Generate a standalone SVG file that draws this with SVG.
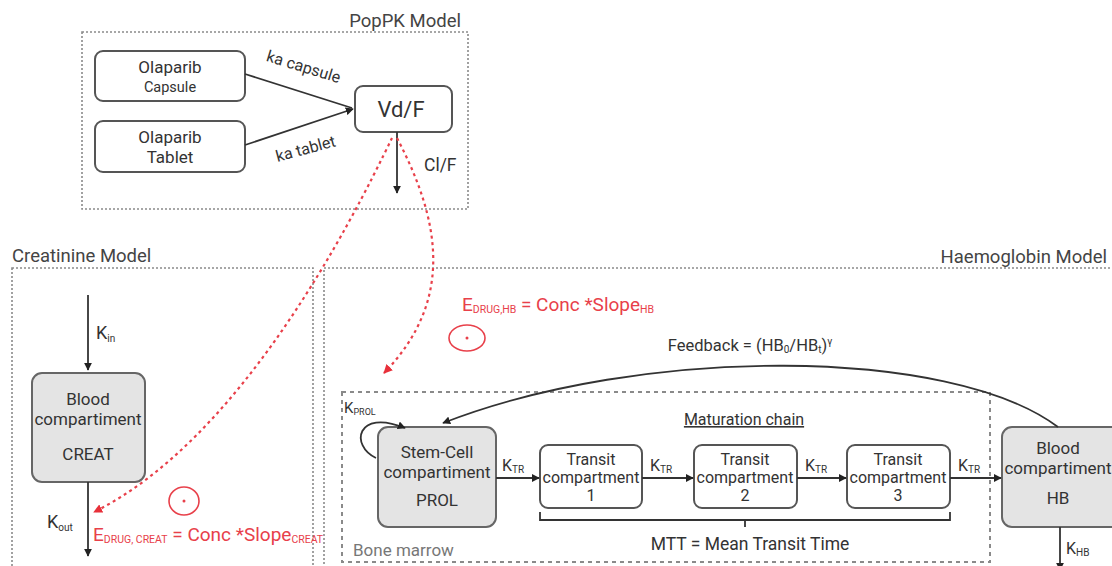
<svg xmlns="http://www.w3.org/2000/svg" width="1112" height="566" viewBox="0 0 1112 566">
  <style>
    text { font-family: Roboto, "Liberation Sans", sans-serif; fill: #333; }
    .title { font-size: 18.5px; fill: #444; }
    .lbl { font-size: 17px; }
    .small { font-size: 16px; }
    .sub { font-size: 10px; }
    .red { fill: #e8404a; }
    .frame { fill: none; stroke: #8a8a8a; stroke-width: 1.6; stroke-dasharray: 2 2; }
    .marrow { fill: none; stroke: #8a8a8a; stroke-width: 2; stroke-dasharray: 4 4; }
    .box { fill: #fff; stroke: #555; stroke-width: 2; }
    .gbox { fill: #e4e4e4; stroke: #666; stroke-width: 2; }
    .line { fill: none; stroke: #333; stroke-width: 1.8; }
    .arrow { fill: none; stroke: #333; stroke-width: 1.8; marker-end: url(#ah); }
    .drug { fill: none; stroke: #e8404a; stroke-width: 2.2; stroke-dasharray: 3 3.5; marker-end: url(#ahr); }
    .inhib { fill: none; stroke: #e8404a; stroke-width: 1.6; }
  </style>
  <defs>
    <marker id="ah" viewBox="0 0 10 10" refX="9" refY="5" markerWidth="8" markerHeight="8" markerUnits="userSpaceOnUse" orient="auto">
      <path d="M0 0 L10 5 L0 10 z" fill="#222"/>
    </marker>
    <marker id="ahr" viewBox="0 0 10 10" refX="9" refY="5" markerWidth="9" markerHeight="9" markerUnits="userSpaceOnUse" orient="auto">
      <path d="M0 0 L10 5 L0 10 z" fill="#e8303a"/>
    </marker>
  </defs>

  <rect width="1112" height="566" fill="#fff"/>

  <!-- model frames -->
  <g id="frames">
    <rect class="frame" x="82" y="32" width="386" height="177"/>
    <text class="title" x="461" y="27" text-anchor="end">PopPK Model</text>
    <rect class="frame" x="12" y="268" width="301" height="310"/>
    <text class="title" x="12" y="262">Creatinine Model</text>
    <rect class="frame" x="324" y="268" width="800" height="310"/>
    <text class="title" x="1107" y="263" text-anchor="end">Haemoglobin Model</text>
    <rect class="marrow" x="342" y="392" width="648" height="170"/>
    <text x="353" y="556" style="font-size:17px;fill:#777">Bone marrow</text>
  </g>

  <!-- PopPK nodes -->
  <g id="capsule">
    <rect class="box" x="95" y="51" width="150" height="50" rx="8"/>
    <text x="170" y="73" text-anchor="middle" style="font-size:17px">Olaparib</text>
    <text x="170" y="92" text-anchor="middle" style="font-size:14.5px">Capsule</text>
  </g>
  <g id="tablet">
    <rect class="box" x="95" y="121" width="150" height="51" rx="8"/>
    <text x="170" y="143" text-anchor="middle" style="font-size:17px">Olaparib</text>
    <text x="170" y="163" text-anchor="middle" style="font-size:17px">Tablet</text>
  </g>
  <g id="vdf">
    <rect class="box" x="355" y="86" width="97" height="46" rx="8"/>
    <text x="401" y="117" text-anchor="middle" style="font-size:22px">Vd/F</text>
  </g>

  <!-- Creatinine node -->
  <g id="creat">
    <rect class="gbox" x="32" y="373" width="113" height="109" rx="10"/>
    <text class="lbl" x="88" y="405" text-anchor="middle">Blood</text>
    <text class="lbl" x="88" y="425" text-anchor="middle">compartiment</text>
    <text class="lbl" x="88" y="460" text-anchor="middle">CREAT</text>
  </g>

  <!-- Haemoglobin nodes -->
  <g id="prol">
    <rect class="gbox" x="378" y="427" width="118" height="100" rx="10"/>
    <text class="lbl" x="437" y="458" text-anchor="middle">Stem-Cell</text>
    <text class="lbl" x="437" y="478" text-anchor="middle">compartiment</text>
    <text class="lbl" x="437" y="506" text-anchor="middle">PROL</text>
  </g>
  <g id="transit1">
    <rect class="box" x="540" y="445" width="102" height="63" rx="8"/>
    <text class="small" x="591" y="465" text-anchor="middle">Transit</text>
    <text class="small" x="591" y="483" text-anchor="middle">compartment</text>
    <text class="small" x="591" y="501" text-anchor="middle">1</text>
  </g>
  <g id="transit2">
    <rect class="box" x="694" y="445" width="103" height="63" rx="8"/>
    <text class="small" x="745" y="465" text-anchor="middle">Transit</text>
    <text class="small" x="745" y="483" text-anchor="middle">compartment</text>
    <text class="small" x="745" y="501" text-anchor="middle">2</text>
  </g>
  <g id="transit3">
    <rect class="box" x="847" y="445" width="103" height="63" rx="8"/>
    <text class="small" x="898" y="465" text-anchor="middle">Transit</text>
    <text class="small" x="898" y="483" text-anchor="middle">compartment</text>
    <text class="small" x="898" y="501" text-anchor="middle">3</text>
  </g>
  <g id="hb">
    <rect class="gbox" x="1002" y="427" width="120" height="100" rx="10"/>
    <text class="lbl" x="1058" y="454" text-anchor="middle">Blood</text>
    <text class="lbl" x="1058" y="474" text-anchor="middle">compartiment</text>
    <text class="lbl" x="1058" y="504" text-anchor="middle">HB</text>
  </g>

  <!-- connectors -->
  <g id="connectors">
    <path class="line" d="M245 74 L352 108"/>
    <path class="arrow" d="M245 145 L353 109"/>
    <text transform="translate(302 72) rotate(17)" text-anchor="middle" style="font-size:16px">ka capsule</text>
    <text transform="translate(307 154) rotate(-15)" text-anchor="middle" style="font-size:16px">ka tablet</text>

    <path class="arrow" d="M397 132 V193"/>
    <text x="424" y="171" style="font-size:17.5px">Cl/F</text>

    <path class="arrow" d="M88 295 V370"/>
    <text x="96" y="339" style="font-size:18px">K<tspan class="sub" dy="3">in</tspan></text>
    <path class="arrow" d="M88 482 V556"/>
    <text x="47" y="528" style="font-size:18px">K<tspan class="sub" dy="3">out</tspan></text>

    <path class="arrow" d="M376 458 C350 446 356 408 405 428"/>
    <text x="344" y="413" style="font-size:15px">K<tspan class="sub" dy="2" style="font-size:9px">PROL</tspan></text>

    <path class="arrow" d="M496 478 H539"/>
    <text x="502" y="471" style="font-size:16px">K<tspan class="sub" dy="2">TR</tspan></text>
    <path class="arrow" d="M642 478 H693"/>
    <text x="650" y="471" style="font-size:16px">K<tspan class="sub" dy="2">TR</tspan></text>
    <path class="arrow" d="M797 478 H846"/>
    <text x="805" y="471" style="font-size:16px">K<tspan class="sub" dy="2">TR</tspan></text>
    <path class="arrow" d="M950 478 H1001"/>
    <text x="958" y="471" style="font-size:16px">K<tspan class="sub" dy="2">TR</tspan></text>

    <path class="arrow" d="M1060 527 V570"/>
    <text x="1066" y="554" style="font-size:16px">K<tspan class="sub" dy="2">HB</tspan></text>

    <path class="arrow" d="M1058 427 C950 346 640 346 443 423"/>
    <text x="750" y="351" text-anchor="middle" style="font-size:16.5px">Feedback = (HB<tspan class="sub" dy="2">0</tspan><tspan dy="-2">/HB</tspan><tspan class="sub" dy="2">t</tspan><tspan dy="-2">)</tspan><tspan class="sub" dy="-6">γ</tspan></text>

    <text x="744" y="425" text-anchor="middle" text-decoration="underline" style="font-size:16px">Maturation chain</text>
    <path class="line" d="M540 512 V520 H950 V512 M745 520 V527"/>
    <text x="750" y="550" text-anchor="middle" style="font-size:17.5px">MTT = Mean Transit Time</text>

    <!-- drug effect links -->
    <path class="drug" d="M392 138 C350 225 240 440 94 512"/>
    <path class="drug" d="M397 138 C440 220 455 300 384 373"/>

    <ellipse class="inhib" cx="184" cy="501" rx="15" ry="14"/>
    <circle cx="184" cy="501" r="1.5" fill="#e8404a"/>
    <text class="red" x="93" y="541" style="font-size:19px">E<tspan dy="2" style="font-size:10.5px">DRUG, CREAT</tspan><tspan dy="-2"> = Conc *Slope</tspan><tspan dy="2" style="font-size:10.5px">CREAT</tspan></text>

    <ellipse class="inhib" cx="467" cy="338" rx="18" ry="13"/>
    <circle cx="467" cy="338" r="1.5" fill="#e8404a"/>
    <text class="red" x="462" y="311" style="font-size:19px">E<tspan dy="2" style="font-size:10.5px">DRUG,HB</tspan><tspan dy="-2"> = Conc *Slope</tspan><tspan dy="2" style="font-size:10.5px">HB</tspan></text>
  </g>
</svg>
